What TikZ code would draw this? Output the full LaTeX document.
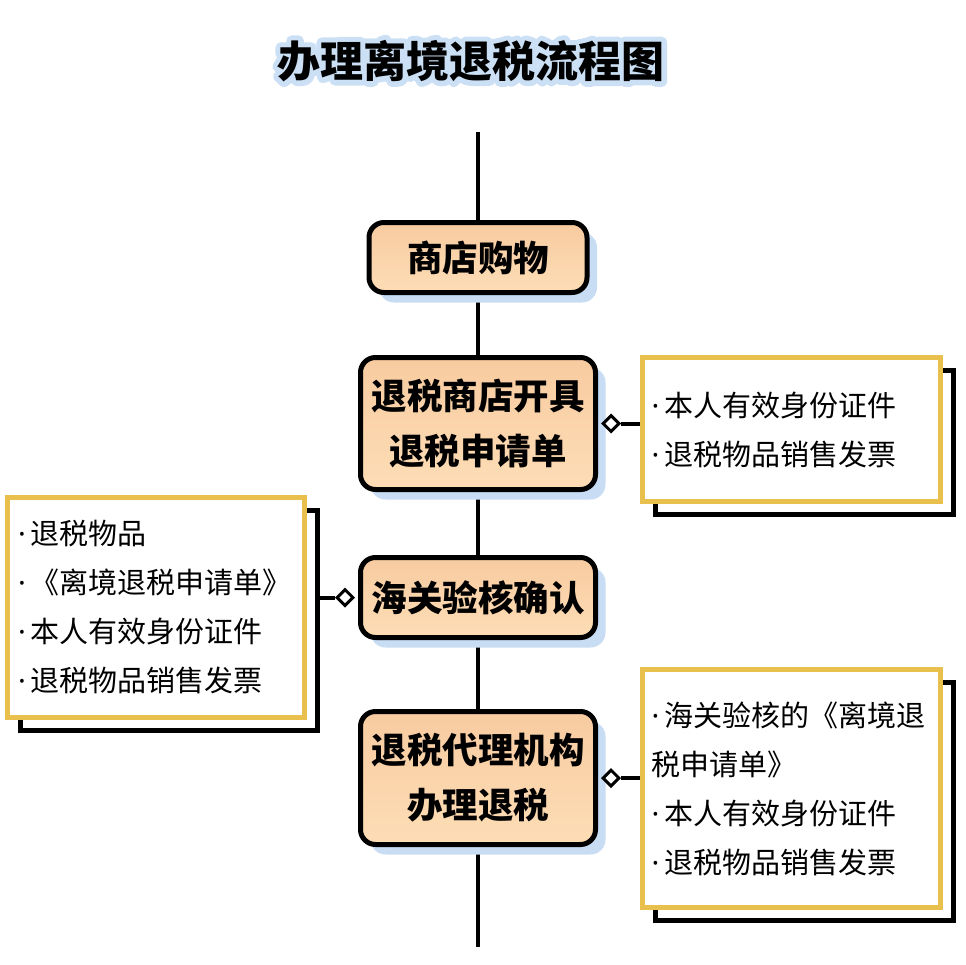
\documentclass[tikz,border=0pt]{standalone}
\usepackage{fontspec}
\setmainfont{Noto Sans CJK SC}
\newfontfamily\latinfont{Noto Sans}
\newfontfamily\halofont{Noto Sans CJK SC}[FakeBold=25]
\newcommand\notedot{{\latinfont ·}\hspace{5pt}}
\usetikzlibrary{positioning,shadows,shapes.geometric,backgrounds}
\definecolor{peachtop}{HTML}{F8CBA0}
\definecolor{peachbot}{HTML}{FDDDB6}
\definecolor{skyshadow}{HTML}{C8DCF4}
\definecolor{gold}{HTML}{E9C04E}
\definecolor{halo}{HTML}{CBDFF5}

\begin{document}
\begin{tikzpicture}[x=1pt,y=-1pt,
  stepbox/.style={rectangle,rounded corners=15pt,draw=black,line width=5pt,
    top color=peachtop,bottom color=peachbot,align=center,
    font=\fontsize{35.5}{55}\selectfont\bfseries,minimum width=235pt,
    drop shadow={shadow xshift=10pt,shadow yshift=-10pt,fill=skyshadow,opacity=1}},
  notebox/.style={rectangle,draw=gold,line width=5pt,fill=white,align=left,
    font=\fontsize{29}{49}\selectfont,inner xsep=9pt,text width=280pt,
    drop shadow={shadow xshift=13pt,shadow yshift=-13pt,fill=white,draw=black,line width=5pt,opacity=1}},
  knot/.style={diamond,aspect=1,draw=black,fill=white,line width=3pt,inner sep=0pt,minimum size=17pt},
  spine/.style={line width=4pt,black},
  link/.style={line width=4pt,black}]
\useasboundingbox (0,0) rectangle (966,964);

% title
\node[font=\fontsize{43}{43}\selectfont\bfseries] (title) at (471,61) {办理离境退税流程图};

% steps
\coordinate (top) at (478,132);
\coordinate (bottom) at (478,947);
\node[stepbox,minimum width=218pt,minimum height=70pt] (shop) at (478,257.5) {商店购物};
\node[stepbox,minimum height=132pt] (form) at (478,423.5) {退税商店开具\\退税申请单};
\node[stepbox,minimum height=80pt] (check) at (478,597.5) {海关验核确认};
\node[stepbox,minimum height=133pt] (refund) at (478,778) {退税代理机构\\办理退税};

% notes
\node[notebox,minimum height=144pt] (note1) at (791.5,429.5) {\notedot 本人有效身份证件\\\notedot 退税物品销售发票};
\node[notebox,minimum height=220pt,text width=276pt,inner xsep=10.5pt] (note2) at (156,607.5)
  {\notedot 退税物品\\\notedot《离境退税申请单》\\\notedot 本人有效身份证件\\\notedot 退税物品销售发票};
\node[notebox,minimum height=238pt] (note3) at (791.5,788.5)
  {\notedot 海关验核的《离境退\\税申请单》\\\notedot 本人有效身份证件\\\notedot 退税物品销售发票};

\node[knot,right=3pt of form] (k1) {};
\node[knot,left=3pt of check] (k2) {};
\node[knot,right=3pt of refund] (k3) {};

\begin{scope}[on background layer]
\node[line join=round,font=\halofont\fontsize{43}{43}\selectfont\bfseries,text=halo] at (title.center) {办理离境退税流程图};
\draw[spine] (top) -- (shop) -- (form) -- (check) -- (refund) -- (bottom);
\draw[link] (k1) -- (k1 -| note1.west);
\draw[link] (k2) -- (k2 -| note2.east);
\draw[link] (k3) -- (k3 -| note3.west);
\end{scope}
\end{tikzpicture}
\end{document}
